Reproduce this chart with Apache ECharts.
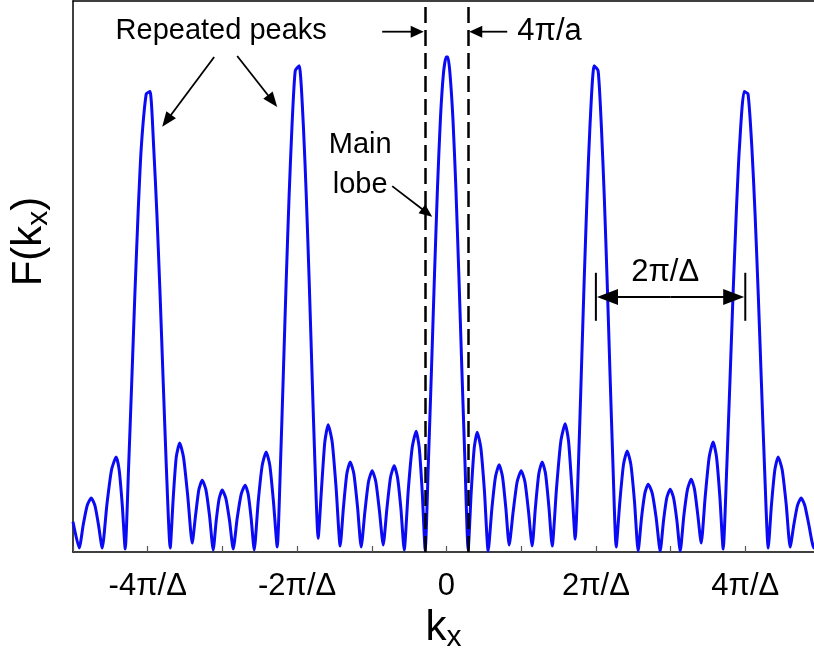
<!DOCTYPE html>
<html>
<head>
<meta charset="utf-8">
<script src="https://cdn.jsdelivr.net/npm/echarts@6/dist/echarts.min.js"></script>
<style>
  html, body { margin: 0; padding: 0; background: #fff; }
  #chart { width: 814px; height: 662px; }
</style>
</head>
<body>
<div id="chart"></div>
<script>
// Array-factor magnitude F(kx); kx measured in units of pi/Delta.
const kx = [
  -5.000, -4.917,
  -4.863, -4.810, -4.756, -4.707, -4.659, -4.609,
  -4.546, -4.484, -4.422, -4.382, -4.341, -4.301,
  -4.256, -4.214, -4.172, -4.129, -4.087, -4.020, -3.969, -3.919, -3.877, -3.834, -3.792, -3.750, -3.699,
  -3.658, -3.618, -3.572, -3.520, -3.462, -3.404,
  -3.360, -3.315, -3.270, -3.221, -3.172, -3.123,
  -3.083, -3.043, -3.003, -2.953, -2.904, -2.855,
  -2.802, -2.748, -2.695, -2.655, -2.615, -2.574,
  -2.521, -2.467, -2.414, -2.365, -2.316, -2.266,
  -2.222, -2.184, -2.146, -2.107, -2.069, -2.025, -1.972, -1.915, -1.877, -1.838, -1.800, -1.761, -1.718,
  -1.673, -1.629, -1.584, -1.530, -1.477, -1.423,
  -1.379, -1.334, -1.289, -1.240, -1.191, -1.142,
  -1.092, -1.044, -0.995, -0.946, -0.897, -0.847,
  -0.798, -0.749, -0.700, -0.656, -0.610, -0.566,
  -0.513, -0.459, -0.406, -0.365, -0.325, -0.285,
  -0.242, -0.201, -0.161, -0.121, -0.081, -0.040, -0.004, 0.018, 0.046, 0.086, 0.126, 0.166, 0.206, 0.247, 0.290,
  0.331, 0.371, 0.411, 0.460, 0.509, 0.558,
  0.608, 0.656, 0.705, 0.750, 0.795, 0.839,
  0.893, 0.946, 1.000, 1.050, 1.098, 1.147,
  1.191, 1.236, 1.281, 1.326, 1.371, 1.415,
  1.473, 1.531, 1.589, 1.634, 1.679, 1.723,
  1.767, 1.805, 1.843, 1.882, 1.920, 1.977, 2.030, 2.074, 2.112, 2.151, 2.189, 2.228, 2.272,
  2.321, 2.370, 2.419, 2.468, 2.517, 2.566,
  2.611, 2.656, 2.700, 2.754, 2.807, 2.861,
  2.906, 2.950, 2.995, 3.039, 3.084, 3.129,
  3.178, 3.227, 3.276, 3.320, 3.365, 3.410,
  3.463, 3.517, 3.570, 3.615, 3.660, 3.704,
  3.752, 3.794, 3.836, 3.879, 3.921, 3.985, 4.037, 4.089, 4.131, 4.174, 4.216, 4.258, 4.307,
  4.351, 4.396, 4.440, 4.494, 4.548, 4.601,
  4.650, 4.699, 4.748, 4.797, 4.851, 4.917, 5.000
];

const F = [
  0.061, 0.008,
  0.055, 0.094, 0.109, 0.094, 0.055, 0.008,
  0.096, 0.166, 0.192, 0.166, 0.096, 0.006,
  0.170, 0.342, 0.519, 0.683, 0.815, 0.925, 0.930, 0.815, 0.683, 0.519, 0.342, 0.170, 0.008,
  0.110, 0.191, 0.220, 0.191, 0.110, 0.018,
  0.073, 0.126, 0.145, 0.126, 0.073, 0.004,
  0.063, 0.108, 0.125, 0.108, 0.063, 0.006,
  0.068, 0.117, 0.135, 0.117, 0.068, 0.004,
  0.101, 0.175, 0.202, 0.175, 0.101, 0.010,
  0.179, 0.361, 0.547, 0.719, 0.858, 0.972, 0.982, 0.858, 0.719, 0.547, 0.361, 0.179, 0.028,
  0.128, 0.222, 0.257, 0.222, 0.128, 0.012,
  0.091, 0.158, 0.182, 0.158, 0.091, 0.010,
  0.082, 0.142, 0.164, 0.142, 0.082, 0.014,
  0.087, 0.151, 0.174, 0.151, 0.087, 0.004,
  0.122, 0.211, 0.244, 0.211, 0.122, 0.004,
  0.183, 0.368, 0.558, 0.734, 0.876, 0.968, 1.000, 1.000, 0.968, 0.876, 0.734, 0.558, 0.368, 0.183, 0.004,
  0.121, 0.210, 0.242, 0.210, 0.121, 0.002,
  0.088, 0.152, 0.176, 0.152, 0.088, 0.014,
  0.082, 0.142, 0.164, 0.142, 0.082, 0.012,
  0.091, 0.158, 0.182, 0.158, 0.091, 0.012,
  0.129, 0.224, 0.259, 0.224, 0.129, 0.026,
  0.179, 0.361, 0.547, 0.719, 0.858, 0.982, 0.972, 0.858, 0.719, 0.547, 0.361, 0.179, 0.010,
  0.102, 0.177, 0.204, 0.177, 0.102, 0.002,
  0.069, 0.119, 0.137, 0.119, 0.069, 0.002,
  0.064, 0.110, 0.127, 0.110, 0.064, 0.002,
  0.074, 0.127, 0.147, 0.127, 0.074, 0.018,
  0.111, 0.192, 0.222, 0.192, 0.111, 0.006,
  0.170, 0.342, 0.519, 0.683, 0.815, 0.930, 0.925, 0.815, 0.683, 0.519, 0.342, 0.170, 0.008,
  0.096, 0.166, 0.192, 0.166, 0.096, 0.010,
  0.055, 0.094, 0.109, 0.094, 0.055, 0.008, 0.061
];

// Labelled ticks on the kx axis
const tickValues = [-4, -2, 0, 2, 4];
const tickLabels = ['-4π/Δ', '-2π/Δ', '0', '2π/Δ', '4π/Δ'];

// Visible kx window (the frame is cut just short of +5)
const kxRange = [-5, 4.92];

// Edges of the main lobe (first nulls)
const mainLobeEdges = [-0.29, 0.29];

// Span of one grating period, marked between two neighbouring peaks
const periodSpan = [2, 4];

const FONT = '"Liberation Sans", Arial, Helvetica, sans-serif';
const INK = '#000';

const chart = echarts.init(document.getElementById('chart'), null, { renderer: 'canvas' });

const nameRich = {
  m: { fontFamily: FONT, fontSize: 42, color: INK, lineHeight: 46, verticalAlign: 'top' },
  s: { fontFamily: FONT, fontSize: 30, color: INK, lineHeight: 22, verticalAlign: 'bottom' }
};

const option = {
  animation: false,
  backgroundColor: '#fff',
  grid: { left: 73, right: 0, top: 1, bottom: 110, show: false },
  xAxis: [{
    type: 'value',
    position: 'bottom',
    min: kxRange[0], max: kxRange[1], interval: 1,
    axisLine: { show: true, onZero: false, lineStyle: { color: INK, width: 1.5 } },
    axisTick: { show: true, inside: true, length: 6, lineStyle: { color: '#555', width: 1.2 } },
    splitLine: { show: false },
    axisLabel: {
      margin: 19,
      showMaxLabel: false,
      fontFamily: FONT, fontSize: 31, color: INK,
      formatter: v => {
        const i = tickValues.indexOf(Math.round(v * 1000) / 1000);
        return i >= 0 ? tickLabels[i] : '';
      }
    },
    name: '{m|k}{s|x}',
    nameLocation: 'middle',
    nameGap: 55,
    nameTextStyle: { rich: nameRich }
  }, {
    // plain frame edge along the top
    type: 'value',
    position: 'top',
    min: kxRange[0], max: kxRange[1],
    axisLine: { show: true, onZero: false, lineStyle: { color: INK, width: 1.5 } },
    axisTick: { show: false },
    axisLabel: { show: false },
    splitLine: { show: false }
  }],
  yAxis: {
    type: 'value',
    min: 0, max: 1.113,
    axisLine: { show: true, onZero: false, lineStyle: { color: INK, width: 1.5 } },
    axisTick: { show: false },
    axisLabel: { show: false },
    splitLine: { show: false },
    name: '{m|F(k}{s|x}{m|)}',
    nameLocation: 'middle',
    nameGap: 19,
    nameTextStyle: { padding: [0, 0, 0, 70], rich: nameRich }
  },
  series: [{
    type: 'line',
    xAxisIndex: 0,
    data: kx.map((x, i) => [x, F[i]]),
    showSymbol: false,
    smooth: 0.2,
    clip: true,
    lineStyle: { color: '#0a0af5', width: 3, join: 'round' },
    z: 3,
    markLine: {
      silent: true,
      symbol: 'none',
      label: { show: false },
      lineStyle: { color: INK, width: 2.5, type: [16, 7] },
      data: mainLobeEdges.map(v => ({ xAxis: v }))
    }
  }]
};

chart.setOption(option);

// ---- annotations, anchored in data units ----
const toPx = p => chart.convertToPixel({ gridIndex: 0 }, p);

function arrow(from, to, len, wid, lw) {
  const [x0, y0] = toPx(from);
  const [x1, y1] = toPx(to);
  const dx = x1 - x0, dy = y1 - y0;
  const L = Math.hypot(dx, dy);
  const ux = dx / L, uy = dy / L;
  const bx = x1 - ux * len, by = y1 - uy * len;
  const nx = -uy * wid / 2, ny = ux * wid / 2;
  return [
    { type: 'line', silent: true, z: 10,
      shape: { x1: x0, y1: y0, x2: bx + ux, y2: by + uy },
      style: { stroke: INK, lineWidth: lw } },
    { type: 'polygon', silent: true, z: 10,
      shape: { points: [[x1, y1], [bx + nx, by + ny], [bx - nx, by - ny]] },
      style: { fill: INK } }
  ];
}

function label(text, at, size, align) {
  const [x, y] = toPx(at);
  return {
    type: 'text', silent: true, z: 10, x, y,
    style: {
      text, fill: INK, fontFamily: FONT, fontSize: size,
      align: align || 'center', verticalAlign: 'middle', lineHeight: 40
    }
  };
}

function bar(x, y0, y1, lw) {
  const [px, py0] = toPx([x, y0]);
  const [, py1] = toPx([x, y1]);
  return { type: 'line', silent: true, z: 10,
    shape: { x1: px, y1: py0, x2: px, y2: py1 }, style: { stroke: INK, lineWidth: lw } };
}

const spanMid = (periodSpan[0] + periodSpan[1]) / 2;
const elements = [
  label('Repeated peaks', [-3.016, 1.0525], 29),
  ...arrow([-3.110, 1.000], [-3.806, 0.859], 15, 12, 1.8),
  ...arrow([-2.802, 1.002], [-2.266, 0.899], 15, 12, 1.8),

  ...arrow([-0.861, 1.051], [mainLobeEdges[0] - 0.015, 1.051], 13, 12, 1.8),
  ...arrow([0.813, 1.051], [mainLobeEdges[1] + 0.015, 1.051], 13, 12, 1.8),
  label('4π/a', [0.948, 1.051], 31, 'left'),

  label('Main\nlobe', [-1.155, 0.782], 29),
  ...arrow([-0.727, 0.739], [-0.191, 0.677], 13, 11, 1.8),

  label('2π/Δ', [2.927, 0.564], 31),
  bar(periodSpan[0], 0.564, 0.467, 2),
  bar(periodSpan[1], 0.564, 0.467, 2),
  ...arrow([spanMid, 0.515], [periodSpan[0] + 0.015, 0.515], 21, 16, 2),
  ...arrow([spanMid, 0.515], [periodSpan[1] - 0.015, 0.515], 21, 16, 2)
];

chart.setOption({ graphic: { elements } });
</script>
</body>
</html>
